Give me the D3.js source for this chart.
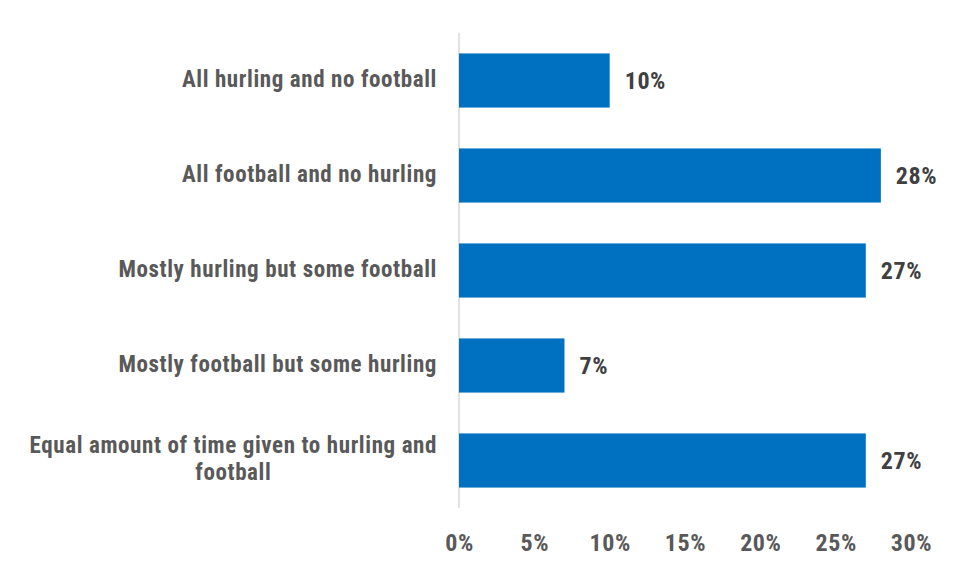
<!DOCTYPE html>
<html><head><meta charset="utf-8">
<script src="https://cdn.jsdelivr.net/npm/d3@7"></script>
<style>
body{margin:0;background:#fff;}
text{font-family:"Liberation Sans Narrow","Arial Narrow","Roboto Condensed","DejaVu Sans Condensed",sans-serif;font-weight:bold;letter-spacing:0.6px;}
</style></head>
<body><svg id="c" width="955" height="569"></svg>
<script>
const categories = [
  ["All hurling and no football"],
  ["All football and no hurling"],
  ["Mostly hurling but some football"],
  ["Mostly football but some hurling"],
  ["Equal amount of time given to hurling and", "football"]
];
const values = [10, 28, 27, 7, 27];
const tickValues = [0, 5, 10, 15, 20, 25, 30];

const svg = d3.select("#c");
const x = d3.scaleLinear().domain([0, 30]).range([459, 911]);
const y = d3.scaleBand().domain(d3.range(categories.length)).range([33, 508]).paddingInner(0.43).paddingOuter(0.215);

// axis line
svg.append("line").attr("x1", x(0)).attr("x2", x(0)).attr("y1", 33).attr("y2", 508)
  .attr("stroke", "#d9d9d9").attr("stroke-width", 1.5);

// bars
svg.selectAll("rect.bar").data(values).join("rect").attr("class", "bar")
  .attr("x", x(0)).attr("y", (d, i) => y(i)).attr("width", d => x(d) - x(0)).attr("height", y.bandwidth())
  .attr("fill", "#0070C0");

// value labels
svg.selectAll("text.val").data(values).join("text").attr("class", "val")
  .attr("x", d => x(d) + 15).attr("y", (d, i) => y(i) + y.bandwidth() / 2).attr("dy", "0.35em")
  .attr("font-size", 24).attr("fill", "#404040").text(d => d + "%");

// category labels
const lh = 27;
categories.forEach((lines, i) => {
  const cy = y(i) + y.bandwidth() / 2;
  const t = svg.append("text").attr("font-size", 23).attr("fill", "#595959");
  const spans = lines.map((l, j) => t.append("tspan").attr("y", cy - 2 + (j - (lines.length - 1) / 2) * lh).attr("dy", "0.35em").text(l));
  if (lines.length === 1) {
    t.attr("text-anchor", "end"); spans[0].attr("x", 437);
  } else {
    const w = d3.max(spans, s => s.node().getComputedTextLength());
    t.attr("text-anchor", "middle"); spans.forEach(s => s.attr("x", 437 - w / 2));
  }
});

// x axis
const ax = svg.append("g").attr("transform", "translate(0,540)")
  .call(d3.axisBottom(x).tickValues(tickValues).tickFormat(d => d + "%").tickSize(0));
ax.select(".domain").remove();
ax.selectAll("text").attr("font-size", 24).attr("fill", "#595959").attr("dy", "0.35em")
  .style("font-family", null);
</script></body></html>
